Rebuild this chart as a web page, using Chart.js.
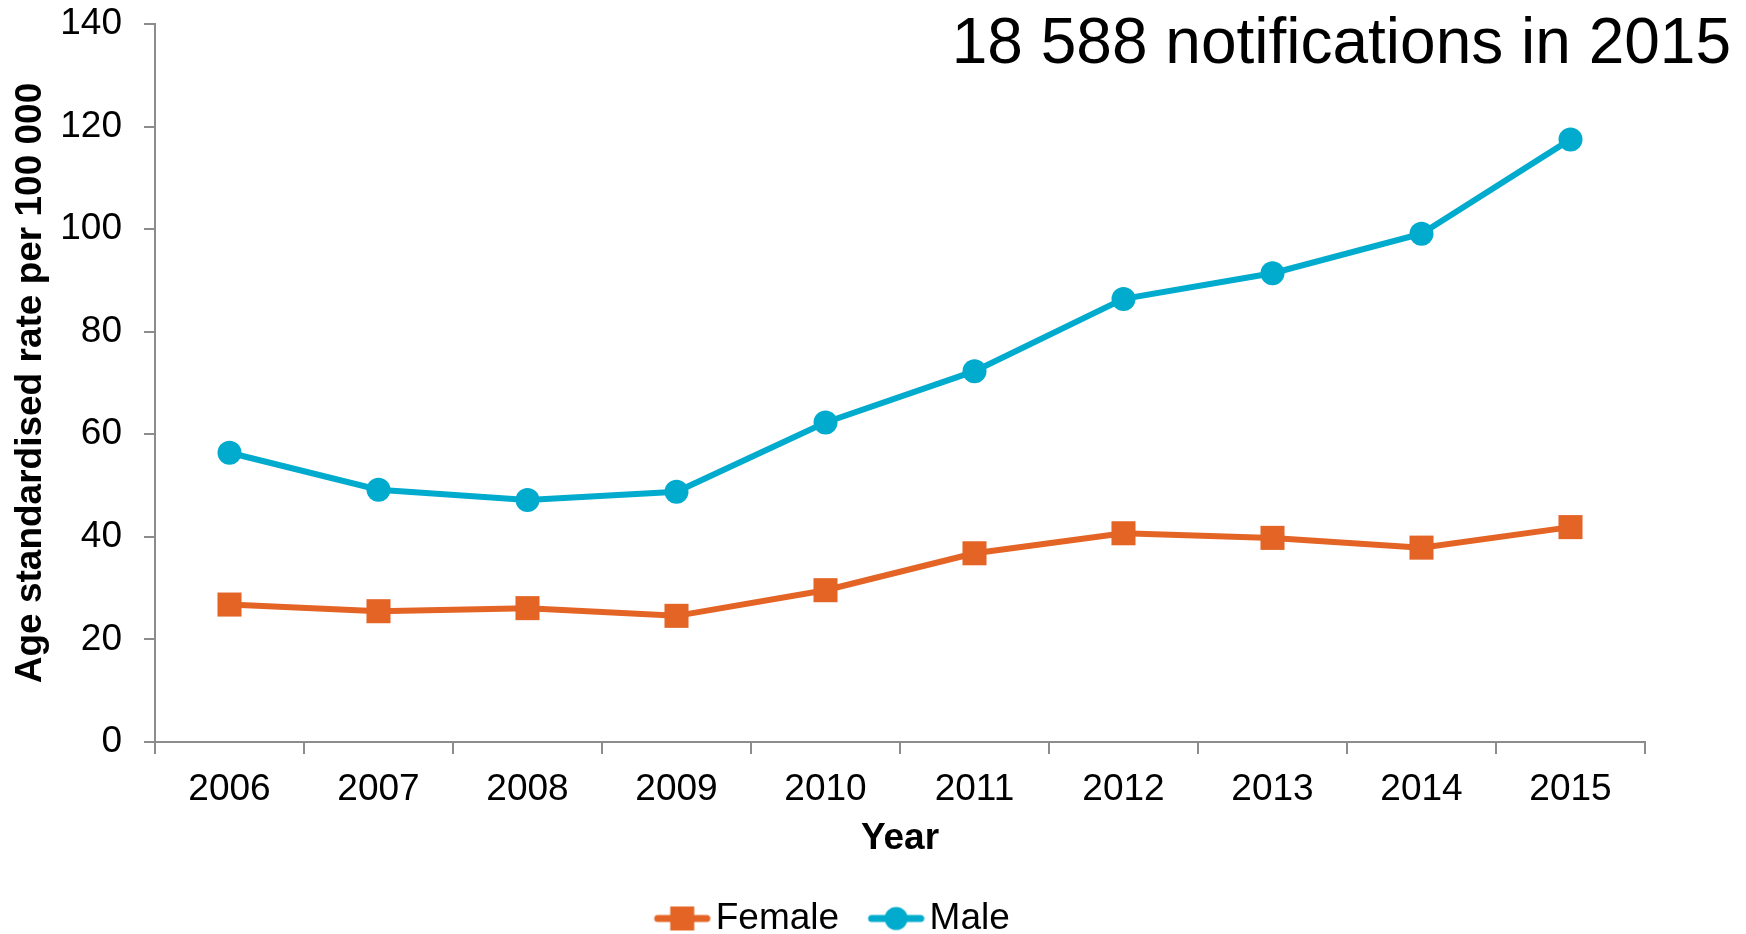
<!DOCTYPE html>
<html>
<head>
<meta charset="utf-8">
<script src="https://cdn.jsdelivr.net/npm/chart.js@4/dist/chart.umd.min.js"></script>
<style>
  html, body { margin: 0; padding: 0; background: #fff; }
  #wrap { width: 1746px; height: 934px; position: relative; }
</style>
</head>
<body>
<div id="wrap"><canvas id="chart"></canvas></div>
<script>
const years = ['2006', '2007', '2008', '2009', '2010', '2011', '2012', '2013', '2014', '2015'];
const female = [26.8, 25.5, 26.1, 24.6, 29.6, 36.8, 40.7, 39.8, 37.9, 41.9];
const male = [56.4, 49.2, 47.2, 48.8, 62.3, 72.3, 86.4, 91.4, 99.1, 117.5];
const yTicks = [0, 20, 40, 60, 80, 100, 120, 140];
const headline = '18 588 notifications in 2015';

const orange = '#E36425';
const blue = '#00ABCD';
const axisGrey = '#8C8C8C';
const FONT = '"Liberation Sans", Arial, sans-serif';

// legend symbol: line with the marker in the middle (left part left transparent for spacing)
function legendIcon(color, shape) {
  const c = document.createElement('canvas');
  c.width = 89; c.height = 26;
  const g = c.getContext('2d');
  g.strokeStyle = color;
  g.lineWidth = 7;
  g.lineCap = 'round';
  g.beginPath(); g.moveTo(36, 13); g.lineTo(85, 13); g.stroke();
  g.fillStyle = color;
  if (shape === 'rect') {
    g.fillRect(60.5 - 12, 1, 24, 24);
  } else {
    g.beginPath(); g.arc(60.5, 13, 11.5, 0, Math.PI * 2); g.fill();
  }
  return c;
}

const headlinePlugin = {
  id: 'headline',
  afterDraw(chart) {
    const ctx = chart.ctx;
    ctx.save();
    ctx.font = '64px ' + FONT;
    ctx.fillStyle = '#000';
    ctx.textAlign = 'right';
    ctx.textBaseline = 'alphabetic';
    ctx.fillText(headline, 1731, 63);
    ctx.restore();
  }
};

new Chart(document.getElementById('chart'), {
  type: 'line',
  data: {
    labels: years,
    datasets: [{
      label: 'Female',
      data: female,
      borderColor: orange,
      backgroundColor: orange,
      borderWidth: 6,
      pointStyle: 'rect',
      pointRadius: 17,
      pointHoverRadius: 17,
      pointBorderWidth: 0,
      fill: false
    }, {
      label: 'Male',
      data: male,
      borderColor: blue,
      backgroundColor: blue,
      borderWidth: 6,
      pointStyle: 'circle',
      pointRadius: 12,
      pointHoverRadius: 12,
      pointBorderWidth: 0,
      fill: false
    }]
  },
  options: {
    responsive: true,
    maintainAspectRatio: false,
    animation: false,
    layout: { padding: { top: 24, right: 101, left: 0, bottom: -13 } },
    plugins: {
      tooltip: { enabled: false },
      legend: {
        position: 'bottom',
        labels: {
          usePointStyle: true,
          pointStyleWidth: 62,
          padding: 10,
          color: '#000',
          font: { family: FONT, size: 37 },
          generateLabels(chart) {
            return chart.data.datasets.map((ds, i) => ({
              text: ds.label,
              pointStyle: legendIcon(ds.borderColor, ds.pointStyle),
              fillStyle: ds.borderColor,
              strokeStyle: ds.borderColor,
              lineWidth: 0,
              datasetIndex: i,
              hidden: false
            }));
          }
        }
      }
    },
    scales: {
      x: {
        offset: true,
        afterFit(scale) { scale.height = 148; },
        grid: {
          offset: true,
          drawOnChartArea: false,
          drawTicks: true,
          tickLength: 12,
          color: axisGrey,
          lineWidth: 2
        },
        border: { color: axisGrey, width: 2 },
        ticks: { color: '#000', padding: 14, font: { family: FONT, size: 37 } },
        title: {
          display: true,
          text: 'Year',
          color: '#000',
          padding: { top: 0, bottom: 29 },
          font: { family: FONT, size: 37, weight: 'bold' }
        }
      },
      y: {
        min: 0,
        max: 140,
        afterBuildTicks(scale) { scale.ticks = yTicks.map(v => ({ value: v })); },
        afterFit(scale) {
          scale.width = 155;
          scale.paddingTop = 0;
          scale.paddingBottom = 0;
        },
        grid: {
          drawOnChartArea: false,
          drawTicks: true,
          tickLength: 11,
          color: axisGrey,
          lineWidth: 2
        },
        border: { color: axisGrey, width: 2 },
        ticks: { color: '#000', padding: 22, font: { family: FONT, size: 37 } },
        title: {
          display: true,
          text: 'Age standardised rate per 100 000',
          color: '#000',
          padding: { top: 9, bottom: 0 },
          font: { family: FONT, size: 37, weight: 'bold' }
        }
      }
    }
  },
  plugins: [headlinePlugin]
});
</script>
</body>
</html>
